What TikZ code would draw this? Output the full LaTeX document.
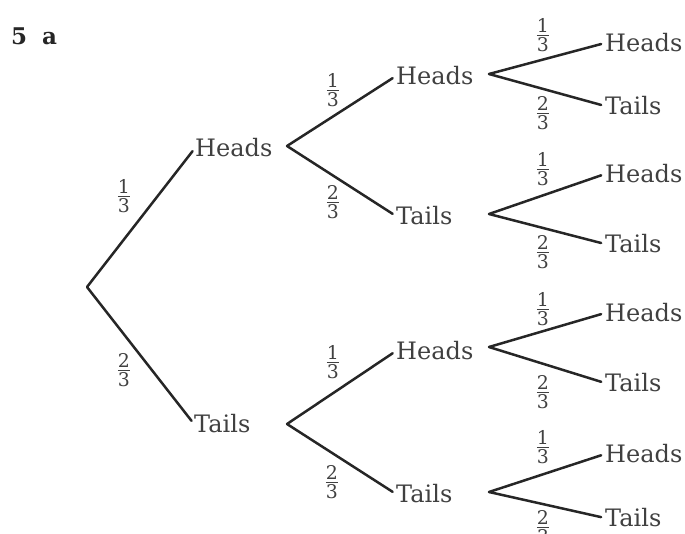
\documentclass[tikz,border=0pt]{standalone}
\usepackage{amsmath}
\usepackage{fontspec}
\setmainfont{DejaVu Serif}
\newcommand{\fr}[2]{$\frac{\text{#1}}{\text{#2}}$}
\begin{document}
\begin{tikzpicture}[x=1pt,y=-1pt,
  branch/.style={draw=black!85,line width=2.5pt,line cap=round},
  outcome/.style={anchor=west,inner sep=0pt,text=black!75,font=\fontsize{24}{28}\selectfont},
  prob/.style={inner sep=0pt,text=black!75,font=\fontsize{27}{30}\selectfont},
  heading/.style={anchor=base west,inner sep=0pt,text=black!85,font=\fontsize{23}{26}\selectfont\bfseries}]
\useasboundingbox (0,0) rectangle (685,533);
\node[heading] (qnum) at (11,44) {5};
\node[heading] (qpart) at (42,44) {a};
% root and branch points
\coordinate (r) at (87,287);
\coordinate (bH) at (287,146);
\coordinate (bT) at (287,424);
\coordinate (bHH) at (489,74);
\coordinate (bHT) at (489,214);
\coordinate (bTH) at (489,347);
\coordinate (bTT) at (489,492);
% level 1
\node[outcome] (H) at (195,148) {Heads};
\node[outcome] (T) at (194,424) {Tails};
% level 2
\node[outcome] (HH) at (396,76) {Heads};
\node[outcome] (HT) at (396,216) {Tails};
\node[outcome] (TH) at (396,351) {Heads};
\node[outcome] (TT) at (396,494) {Tails};
% level 3
\node[outcome] (HHH) at (605,43) {Heads};
\node[outcome] (HHT) at (605,106) {Tails};
\node[outcome] (HTH) at (605,174) {Heads};
\node[outcome] (HTT) at (605,244) {Tails};
\node[outcome] (THH) at (605,313) {Heads};
\node[outcome] (THT) at (605,383) {Tails};
\node[outcome] (TTH) at (605,454) {Heads};
\node[outcome] (TTT) at (605,518) {Tails};
% connectors
\begin{scope}[shorten >=4pt]
\draw[branch] (r) -- (H.west);
\draw[branch] (r) -- (T.west);
\draw[branch] (bH) -- (HH.west);
\draw[branch] (bH) -- (HT.west);
\draw[branch] (bT) -- (TH.west);
\draw[branch] (bT) -- (TT.west);
\draw[branch] (bHH) -- (HHH.west);
\draw[branch] (bHH) -- (HHT.west);
\draw[branch] (bHT) -- (HTH.west);
\draw[branch] (bHT) -- (HTT.west);
\draw[branch] (bTH) -- (THH.west);
\draw[branch] (bTH) -- (THT.west);
\draw[branch] (bTT) -- (TTH.west);
\draw[branch] (bTT) -- (TTT.west);
\end{scope}
% probabilities
\node[prob] (p1) at (124,196) {\fr{1}{3}};
\node[prob] (p2) at (124,370) {\fr{2}{3}};
\node[prob] (p3) at (333,90) {\fr{1}{3}};
\node[prob] (p4) at (333,202) {\fr{2}{3}};
\node[prob] (p5) at (333,362) {\fr{1}{3}};
\node[prob] (p6) at (332,482) {\fr{2}{3}};
\node[prob] (p7) at (543,35) {\fr{1}{3}};
\node[prob] (p8) at (543,113) {\fr{2}{3}};
\node[prob] (p9) at (543,169) {\fr{1}{3}};
\node[prob] (p10) at (543,252) {\fr{2}{3}};
\node[prob] (p11) at (543,309) {\fr{1}{3}};
\node[prob] (p12) at (543,392) {\fr{2}{3}};
\node[prob] (p13) at (543,447) {\fr{1}{3}};
\node[prob] (p14) at (543,527) {\fr{2}{3}};
\end{tikzpicture}
\end{document}
